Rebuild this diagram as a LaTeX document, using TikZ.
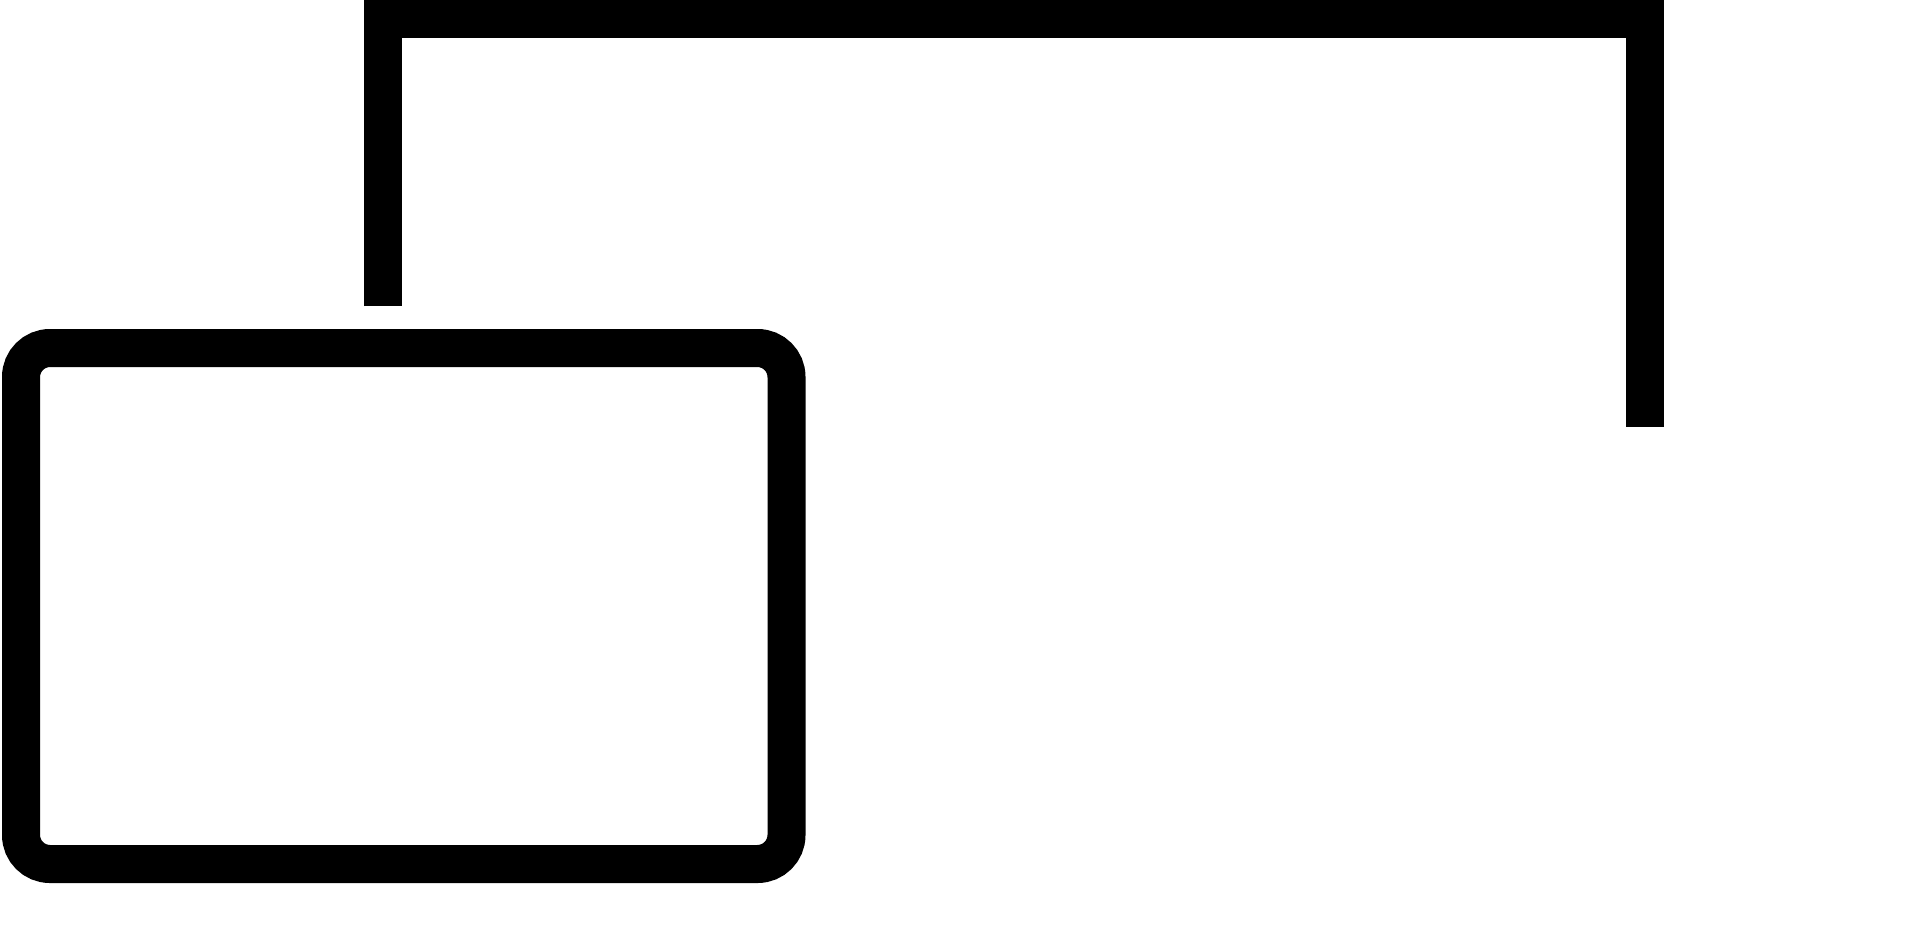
\documentclass[tikz,border=0pt]{standalone}
\begin{document}
\begin{tikzpicture}[x=1pt,y=-1pt,
  thickline/.style={line width=38pt, draw=black, line cap=butt, line join=miter},
  framebox/.style={draw=black, line width=38pt, rounded corners=29pt, fill=white, minimum width=765.5pt, minimum height=516pt, inner sep=0pt, outer sep=0pt}]
\useasboundingbox (0,0) rectangle (1921,940);
\node[framebox] (frame) at (403.75,606) {};
\coordinate (a) at (383,306);
\coordinate (b) at (383,19);
\coordinate (c) at (1645,19);
\coordinate (d) at (1645,427);
\draw[thickline] (a) -- (b) -- (c) -- (d);
\end{tikzpicture}
\end{document}
